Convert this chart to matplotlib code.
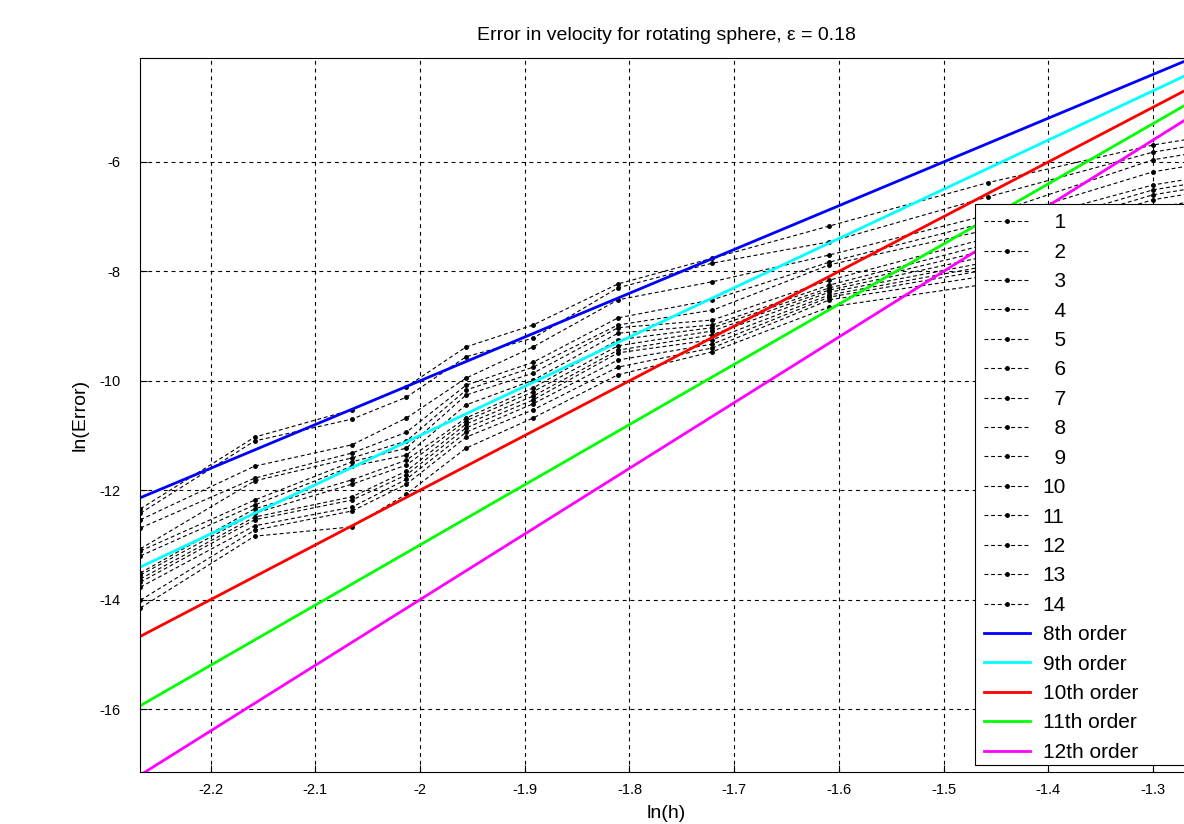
import numpy as np
import matplotlib

matplotlib.use("Agg")
import matplotlib.pyplot as plt
from matplotlib.patches import Rectangle

plt.rcParams["font.family"] = ["Liberation Sans", "DejaVu Sans"]

# ln(h) at which the errors were measured
ln_h = [-2.267, -2.158, -2.065, -2.013, -1.956, -1.892, -1.811, -1.721,
        -1.609, -1.458, -1.300, -1.204]

# ln(Error) for the 14 cases
err_1 = [-12.34, -11.03, -10.53, -10.11, -9.38, -8.98, -8.23, -7.76, -7.17, -6.38, -5.69, -5.39]
err_2 = [-12.42, -11.10, -10.70, -10.30, -9.56, -9.22, -8.30, -7.85, -7.46, -6.64, -5.82, -5.52]
err_3 = [-12.54, -11.56, -11.17, -10.68, -9.95, -9.38, -8.52, -8.19, -7.70, -6.97, -5.96, -5.66]
err_4 = [-12.69, -11.78, -11.32, -10.94, -10.08, -9.66, -8.85, -8.52, -7.83, -7.10, -6.18, -5.88]
err_5 = [-13.07, -11.83, -11.41, -11.10, -10.17, -9.75, -8.98, -8.71, -7.88, -7.24, -6.42, -6.12]
err_6 = [-13.11, -12.18, -11.48, -11.23, -10.26, -9.86, -9.03, -8.89, -8.16, -7.39, -6.51, -6.21]
err_7 = [-13.20, -12.27, -11.56, -11.36, -10.44, -9.99, -9.13, -8.98, -8.25, -7.50, -6.60, -6.30]
err_8 = [-13.51, -12.34, -11.81, -11.45, -10.68, -10.13, -9.25, -9.03, -8.30, -7.61, -6.69, -6.39]
err_9 = [-13.55, -12.42, -11.89, -11.54, -10.73, -10.20, -9.36, -9.09, -8.34, -7.72, -6.84, -6.54]
err_10 = [-13.62, -12.49, -12.12, -11.65, -10.79, -10.28, -9.44, -9.16, -8.38, -7.83, -6.97, -6.67]
err_11 = [-13.68, -12.54, -12.18, -11.72, -10.86, -10.35, -9.49, -9.25, -8.43, -7.90, -7.10, -6.80]
err_12 = [-13.77, -12.65, -12.31, -11.80, -10.94, -10.42, -9.62, -9.33, -8.47, -7.97, -7.21, -6.91]
err_13 = [-14.01, -12.73, -12.38, -11.89, -11.03, -10.53, -9.75, -9.40, -8.52, -8.08, -7.33, -7.03]
err_14 = [-14.15, -12.84, -12.67, -12.07, -11.23, -10.68, -9.89, -9.47, -8.65, -8.23, -7.46, -7.16]
errors = [err_1, err_2, err_3, err_4, err_5, err_6, err_7, err_8, err_9, err_10,
          err_11, err_12, err_13, err_14]
case_labels = ["  %d" % i if i < 10 else "%d" % i for i in range(1, 15)]

# reference slopes: ln(Error) = order * ln(h) + offset
orders = [8, 9, 10, 11, 12]
offsets = [6.0, 7.0, 8.0, 9.0, 10.0]
order_labels = ["8th order", "9th order", "10th order", "11th order", "12th order"]
order_colors = ["#0000ff", "#00ffff", "#ff0000", "#00ff00", "#ff00ff"]

xticks = [-2.2, -2.1, -2.0, -1.9, -1.8, -1.7, -1.6, -1.5, -1.4, -1.3]
xtick_labels = ["-2.2", "-2.1", "-2", "-1.9", "-1.8", "-1.7", "-1.6", "-1.5", "-1.4", "-1.3"]
yticks = [-16, -14, -12, -10, -8, -6]

W, H = 1184, 824
fig = plt.figure(figsize=(W / 100, H / 100), dpi=100)
ax = fig.add_axes([140 / W, 1 - 772 / H, (1192 - 140) / W, (772 - 58) / H])

handles = []
for e, lab in zip(errors, case_labels):
    h, = ax.plot(ln_h, e, linestyle=(0, (3.5, 2.5)), color="black", lw=0.8,
                 marker=".", markersize=5, label=lab)
    handles.append(h)

x_ref = np.array([ln_h[0], ln_h[-1]])
for p, c, lab, col in zip(orders, offsets, order_labels, order_colors):
    h, = ax.plot(x_ref, p * x_ref + c, color=col, lw=2.0, label=lab)
    handles.append(h)

ax.set_xlim(-2.2674, -1.2628)
ax.set_ylim(-17.15, -4.10)
ax.set_xticks(xticks)
ax.set_xticklabels(xtick_labels)
ax.set_yticks(yticks)
ax.set_yticklabels([str(v) for v in yticks])
ax.tick_params(direction="in", length=5, labelsize=10.5)
ax.tick_params(axis="x", pad=8)
ax.tick_params(axis="y", pad=14)
ax.grid(True, color="black", linestyle=(0, (3.5, 3.5)), lw=0.8)
for s in ax.spines.values():
    s.set_linewidth(0.8)

ax.set_title("Error in velocity for rotating sphere, ε = 0.18", fontsize=14, pad=13)
ax.set_xlabel("ln(h)", fontsize=14, labelpad=6)
ax.set_ylabel("ln(Error)", fontsize=14, labelpad=8)

# legend box runs past the right edge of the picture, as in the original
box = Rectangle((975 / W, 1 - 765 / H), 260 / W, (765 - 204) / H,
                transform=fig.transFigure, facecolor="white", edgecolor="black",
                lw=0.8, zorder=4)
fig.add_artist(box)
leg = fig.legend(handles=handles, loc="upper left",
                 bbox_to_anchor=(975 / W, 1 - 204 / H), fontsize=15,
                 frameon=False, handlelength=2.2, handletextpad=0.6,
                 labelspacing=0.5, borderpad=0.45, borderaxespad=0)
leg.set_zorder(5)

fig.savefig("out.png", dpi=100)
